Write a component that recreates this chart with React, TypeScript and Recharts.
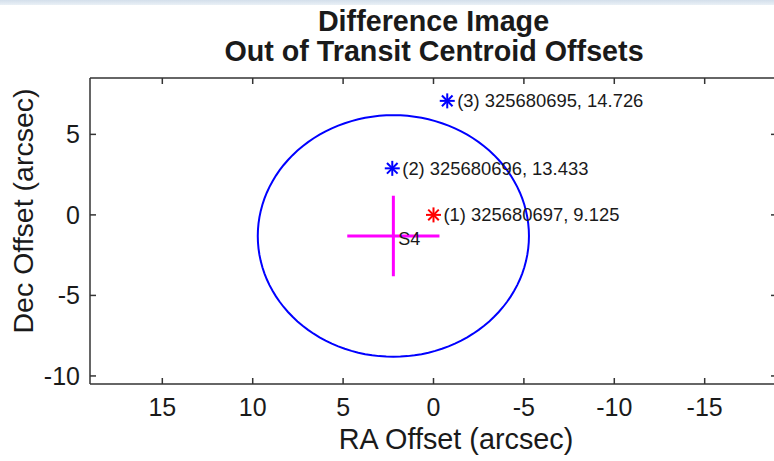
import React from 'react';
import { ScatterChart, Scatter, XAxis, YAxis, Label } from 'recharts';

// Axis setup (RA increases to the left)
const raDomain: [number, number] = [-19, 19];
const decDomain: [number, number] = [-10.5, 8.5];
const raTicks = [15, 10, 5, 0, -5, -10, -15];
const decTicks = [-10, -5, 0, 5];

// Out-of-transit centroid offsets of the nearby stars
const starNames = ['(1) 325680697', '(2) 325680696', '(3) 325680695'];
const starRa = [0, 2.28, -0.76];
const starDec = [0, 2.89, 7.08];
const starMag = ['9.125', '13.433', '14.726'];
const starColors = ['#ff0000', '#0000ff', '#0000ff'];

// Measured centroid (S4) with its RA / Dec uncertainty
const centroidLabel = 'S4';
const centroidRa = 2.22;
const centroidDec = -1.31;
const centroidRaErr = 2.55;
const centroidDecErr = 2.5;

// Radius of the confidence circle around the centroid (arcsec)
const circleRadius = 7.5;

const titleLines = ['Difference Image', 'Out of Transit Centroid Offsets'];
const xLabel = 'RA Offset (arcsec)';
const yLabel = 'Dec Offset (arcsec)';

const FONT = '"Liberation Sans", Arial, Helvetica, sans-serif';
const AXIS = '#333333';
const TEXT = '#1a1a1a';

const stars = starNames.map((name, i) => ({
  x: starRa[i],
  y: starDec[i],
  label: `${name}, ${starMag[i]}`,
  color: starColors[i],
}));

const centroid = [{ x: centroidRa, y: centroidDec, label: centroidLabel }];
const crossH = [
  { x: centroidRa + centroidRaErr, y: centroidDec },
  { x: centroidRa - centroidRaErr, y: centroidDec },
];
const crossV = [
  { x: centroidRa, y: centroidDec + centroidDecErr },
  { x: centroidRa, y: centroidDec - centroidDecErr },
];

// Outline of the circle traced around the centroid
const circle: { x: number; y: number }[] = [];
for (let deg = 0; deg <= 360; deg += 3) {
  const a = (deg * Math.PI) / 180;
  circle.push({
    x: centroidRa + circleRadius * Math.cos(a),
    y: centroidDec + circleRadius * Math.sin(a),
  });
}

const NoShape = () => <g />;

const StarShape = (props: any) => {
  const { cx, cy, payload } = props;
  const r = 7.5;
  const d = r * 0.7071;
  return (
    <g>
      <g stroke={payload.color} strokeWidth={2} strokeLinecap="butt">
        <line x1={cx - r} y1={cy} x2={cx + r} y2={cy} />
        <line x1={cx} y1={cy - r} x2={cx} y2={cy + r} />
        <line x1={cx - d} y1={cy - d} x2={cx + d} y2={cy + d} />
        <line x1={cx - d} y1={cy + d} x2={cx + d} y2={cy - d} />
      </g>
      <text x={cx + 10} y={cy + 6.5} fontSize={18.4} fontFamily={FONT} fill={TEXT}>
        {payload.label}
      </text>
    </g>
  );
};

const CentroidShape = (props: any) => {
  const { cx, cy, payload } = props;
  return (
    <text x={cx + 5} y={cy + 9} fontSize={18} fontFamily={FONT} fill={TEXT}>
      {payload.label}
    </text>
  );
};

const BottomTick = (props: any) => {
  const { x, y, payload } = props;
  return (
    <g>
      <line x1={x} x2={x} y1={y} y2={y - 6} stroke={AXIS} strokeWidth={1.5} />
      <text x={x} y={y + 32} textAnchor="middle" fontSize={25} fontFamily={FONT} fill={TEXT}>
        {payload.value}
      </text>
    </g>
  );
};

const TopTick = (props: any) => {
  const { x, y } = props;
  return <line x1={x} x2={x} y1={y} y2={y + 6} stroke={AXIS} strokeWidth={1.5} />;
};

const LeftTick = (props: any) => {
  const { x, y, payload } = props;
  return (
    <g>
      <line x1={x} x2={x + 6} y1={y} y2={y} stroke={AXIS} strokeWidth={1.5} />
      <text x={x - 10} y={y + 9} textAnchor="end" fontSize={25} fontFamily={FONT} fill={TEXT}>
        {payload.value}
      </text>
    </g>
  );
};

const RightTick = (props: any) => {
  const { x, y } = props;
  return <line x1={x} x2={x - 6} y1={y} y2={y} stroke={AXIS} strokeWidth={1.5} />;
};

export default function App() {
  return (
    <div
      style={{
        position: 'fixed',
        left: 0,
        top: 0,
        width: 774,
        height: 461,
        overflow: 'hidden',
        background: '#ffffff',
      }}
    >
      <ScatterChart
        width={800}
        height={461}
        margin={{ top: 77, right: 22, bottom: 0, left: 0 }}
      >
        <XAxis
          xAxisId="b"
          type="number"
          dataKey="x"
          domain={raDomain}
          reversed
          allowDataOverflow
          ticks={raTicks}
          interval={0}
          height={77}
          tickSize={0}
          tickMargin={0}
          tick={BottomTick}
          axisLine={{ stroke: AXIS, strokeWidth: 1.5 }}
        >
          <Label
            content={() => (
              <text x={456} y={449} textAnchor="middle" fontSize={28.8} fontFamily={FONT} fill={TEXT}>
                {xLabel}
              </text>
            )}
          />
        </XAxis>
        <XAxis
          xAxisId="t"
          orientation="top"
          type="number"
          dataKey="x"
          domain={raDomain}
          reversed
          allowDataOverflow
          ticks={raTicks}
          interval={0}
          height={1}
          tickSize={0}
          tickMargin={0}
          tick={TopTick}
          axisLine={{ stroke: AXIS, strokeWidth: 1.5 }}
        />
        <YAxis
          yAxisId="l"
          type="number"
          dataKey="y"
          domain={decDomain}
          allowDataOverflow
          ticks={decTicks}
          interval={0}
          width={90}
          tickSize={0}
          tickMargin={0}
          tick={LeftTick}
          axisLine={{ stroke: AXIS, strokeWidth: 1.5 }}
        >
          <Label
            content={() => (
              <text
                x={33}
                y={211}
                transform="rotate(-90 33 211)"
                textAnchor="middle"
                fontSize={28.5}
                fontFamily={FONT}
                fill={TEXT}
              >
                {yLabel}
              </text>
            )}
          />
        </YAxis>
        <YAxis
          yAxisId="r"
          orientation="right"
          type="number"
          dataKey="y"
          domain={decDomain}
          allowDataOverflow
          ticks={decTicks}
          interval={0}
          width={1}
          tickSize={0}
          tickMargin={0}
          tick={RightTick}
          axisLine={{ stroke: AXIS, strokeWidth: 1.5 }}
        />

        <Scatter
          xAxisId="b"
          yAxisId="l"
          data={circle}
          line={{ stroke: '#0000ff', strokeWidth: 2 }}
          shape={NoShape}
          isAnimationActive={false}
        />
        <Scatter
          xAxisId="b"
          yAxisId="l"
          data={crossH}
          line={{ stroke: '#ff00ff', strokeWidth: 3 }}
          shape={NoShape}
          isAnimationActive={false}
        />
        <Scatter
          xAxisId="b"
          yAxisId="l"
          data={crossV}
          line={{ stroke: '#ff00ff', strokeWidth: 3 }}
          shape={NoShape}
          isAnimationActive={false}
        />
        <Scatter
          xAxisId="b"
          yAxisId="l"
          data={centroid}
          shape={CentroidShape}
          isAnimationActive={false}
        />
        <Scatter
          xAxisId="b"
          yAxisId="l"
          data={stars}
          shape={StarShape}
          isAnimationActive={false}
        />
      </ScatterChart>
      <svg
        width={774}
        height={70}
        style={{ position: 'absolute', left: 0, top: 0 }}
      >
        <g fontFamily={FONT} fontWeight="bold" fontSize={28.7} fill={TEXT} textAnchor="middle">
          <text x={433.5} y={31}>{titleLines[0]}</text>
          <text x={434} y={61}>{titleLines[1]}</text>
        </g>
      </svg>
      <div
        style={{
          position: 'absolute',
          left: 0,
          top: 0,
          width: 774,
          height: 5,
          background: 'linear-gradient(#d3dfeb, #eaf0f6)',
        }}
      />
    </div>
  );
}
